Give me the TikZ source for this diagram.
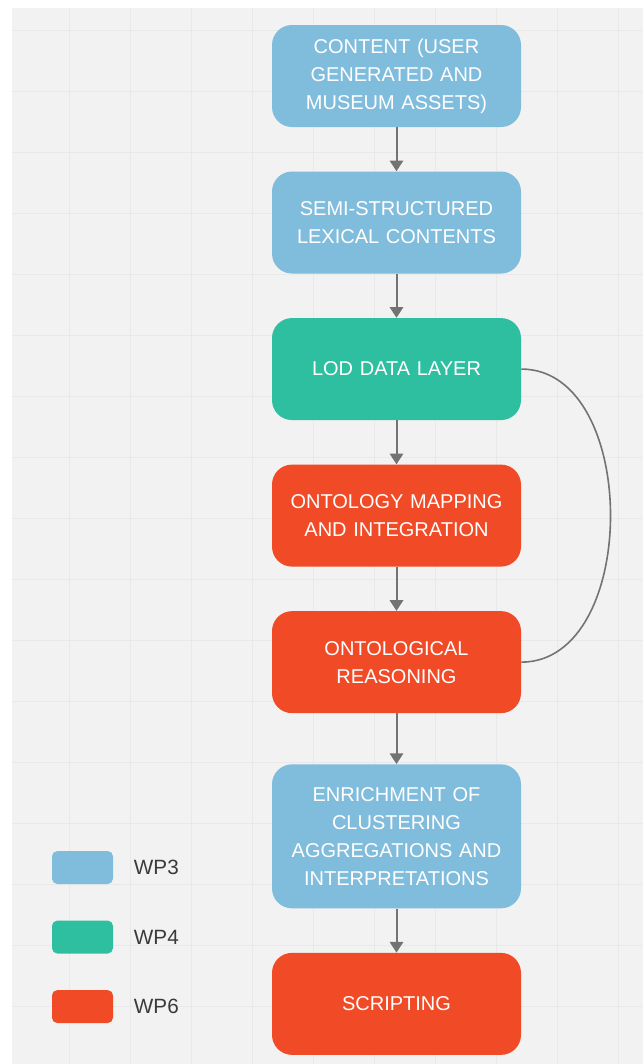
\documentclass[tikz,border=0pt]{standalone}
\usepackage{fontspec}
\setmainfont{Liberation Sans}
\usepackage{tikz}
\usetikzlibrary{shapes,arrows,arrows.meta,calc}
\usetikzlibrary{positioning}
\definecolor{clrWPthree}{RGB}{128,188,220}
\definecolor{clrWPfour}{RGB}{46,190,160}
\definecolor{clrWPsix}{RGB}{240,74,38}
\definecolor{clrBack}{RGB}{242,242,242}
\definecolor{clrGrid}{RGB}{233,233,233}
\definecolor{clrArrow}{RGB}{115,115,115}
\definecolor{clrLegend}{RGB}{58,58,58}
\tikzstyle{box_style00}=[rounded corners=15pt, anchor=center, align=center, text=white,
font=\fontsize{15}{21}\selectfont]
\tikzstyle{diagram0}=[box_style00, minimum width=186.75pt, minimum height=76.5pt, text width=176pt]
\tikzstyle{wpthree}=[diagram0, fill=clrWPthree]
\tikzstyle{wpfour}=[diagram0, fill=clrWPfour]
\tikzstyle{wpsix}=[diagram0, fill=clrWPsix]
\tikzstyle{myarrow}=[-{Triangle[width=10pt,length=8pt]}, draw=clrArrow, fill=clrArrow, line width=1.5pt]
\tikzstyle{loopline}=[draw=clrArrow, line width=1.2pt]
\tikzstyle{swatch}=[rounded corners=4pt, minimum width=45.75pt, minimum height=24.75pt]
\tikzstyle{legendtext}=[anchor=west, text=clrLegend, font=\fontsize{15.5}{18}\selectfont]

\begin{document}
\begin{tikzpicture}[x=0.75pt, y=-0.75pt, node distance=33pt]
		\useasboundingbox (0,0) rectangle (643,1064);
		% background grid
		\fill[clrBack] (12,8) rectangle (643,1064);
		\foreach \gx in {69,130,...,643} \draw[clrGrid, line width=0.6pt] (\gx,8) -- (\gx,1064);
		\foreach \gy in {30,91,...,1064} \draw[clrGrid, line width=0.6pt] (12,\gy) -- (643,\gy);

		\node[wpthree] (content) at (396.5,76) {CONTENT (USER\\GENERATED AND\\MUSEUM ASSETS)} ;

		\node[wpthree, below=of content] (lexical) {SEMI-STRUCTURED\\LEXICAL CONTENTS} ;
		\draw[myarrow] (content) -- (lexical) ;

		\node[wpfour, below=of lexical] (lod) {LOD DATA LAYER} ;
		\draw[myarrow] (lexical) -- (lod) ;

		\node[wpsix, below=of lod] (mapping) {ONTOLOGY MAPPING\\AND INTEGRATION} ;
		\draw[myarrow] (lod) -- (mapping) ;

		\node[wpsix, below=of mapping] (reasoning) {ONTOLOGICAL\\REASONING} ;
		\draw[myarrow] (mapping) -- (reasoning) ;
		\draw[loopline] (lod.east) .. controls +(119,0) and +(119,0) .. (reasoning.east) ;

		\node[wpthree, minimum height=108pt, below=38pt of reasoning] (enrich) {ENRICHMENT OF\\CLUSTERING\\AGGREGATIONS AND\\INTERPRETATIONS} ;
		\draw[myarrow] (reasoning) -- (enrich) ;

		\node[wpsix, below=of enrich] (scripting) {SCRIPTING} ;
		\draw[myarrow] (enrich) -- (scripting) ;

		% legend
		\node[swatch, fill=clrWPthree] (legthree) at (82.5,867.5) {} ;
		\node[legendtext, right=12pt of legthree.east, anchor=west] (labthree) {WP3} ;
		\node[swatch, fill=clrWPfour, below=27pt of legthree] (legfour) {} ;
		\node[legendtext, right=12pt of legfour.east, anchor=west] (labfour) {WP4} ;
		\node[swatch, fill=clrWPsix, below=27pt of legfour] (legsix) {} ;
		\node[legendtext, right=12pt of legsix.east, anchor=west] (labsix) {WP6} ;

	\end{tikzpicture}
\end{document}
